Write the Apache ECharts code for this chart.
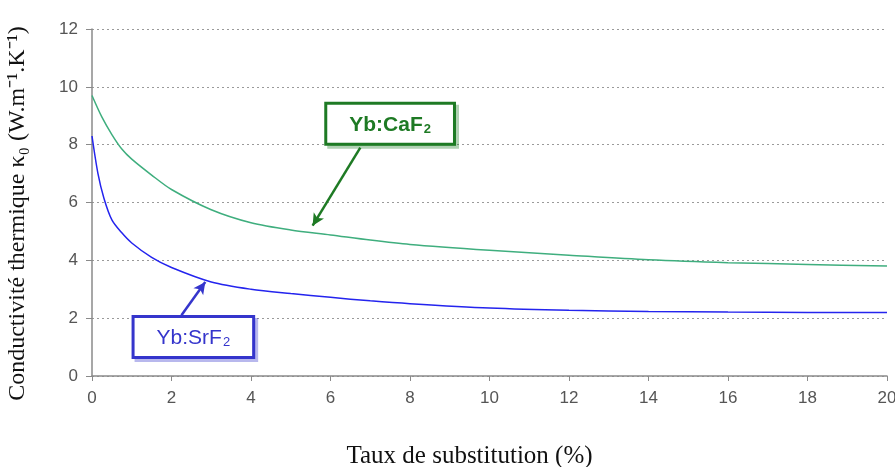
<!DOCTYPE html>
<html>
<head>
<meta charset="utf-8">
<script src="https://cdn.jsdelivr.net/npm/echarts@6/dist/echarts.min.js"></script>
<style>
  html, body { margin: 0; padding: 0; background: #fff; }
  #chart { width: 895px; height: 467px; }
</style>
</head>
<body>
<div id="chart"></div>
<script>
// taux de substitution (%)
const xCaF2 = [0, 0.25, 0.5, 0.75, 1, 1.5, 2, 3, 4, 5, 6, 7, 8, 10, 12, 14, 16, 18, 20]
const yCaF2 = [9.7, 8.95, 8.35, 7.85, 7.5, 6.95, 6.45, 5.75, 5.3, 5.05, 4.88, 4.7, 4.55, 4.35, 4.18, 4.02, 3.92, 3.86, 3.8]
const xSrF2 = [0, 0.15, 0.3, 0.5, 0.75, 1, 1.5, 2, 3, 4, 5, 6, 7, 8, 10, 12, 14, 16, 18, 20]
const ySrF2 = [8.3, 7.0, 6.15, 5.4, 4.95, 4.6, 4.1, 3.75, 3.25, 3.0, 2.85, 2.72, 2.6, 2.5, 2.35, 2.27, 2.23, 2.21, 2.2, 2.2]
const xTicks = [0, 2, 4, 6, 8, 10, 12, 14, 16, 18, 20]
const yTicks = [0, 2, 4, 6, 8, 10, 12]

const greenLine = '#3fae7e'
const greenDark = '#1e7a24'
const blueLine = '#2424ee'
const blueDark = '#3535cc'

const myEchart = echarts.init(document.getElementById('chart'))

function pairs(xs, ys) {
  return xs.map((x, i) => [x, ys[i]])
}

function boxLabel(name, color, weight, shadow) {
  return {
    show: true,
    position: 'inside',
    formatter: '{m|' + name + '}{s|2}',
    backgroundColor: '#fff',
    borderColor: color,
    borderWidth: 3,
    padding: [9, 22, 7, 22],
    shadowColor: shadow,
    shadowOffsetX: 3,
    shadowOffsetY: 3,
    shadowBlur: 0,
    rich: {
      m: { fontSize: 21, fontWeight: weight, color: color, fontFamily: 'Liberation Sans' },
      s: { fontSize: 13, fontWeight: weight, color: color, fontFamily: 'Liberation Sans', padding: [9, 0, 0, 1] }
    }
  }
}

const options = {
  animation: false,
  backgroundColor: '#fff',
  grid: { left: 92, right: 8, top: 29, bottom: 91, containLabel: false, outerBoundsMode: 'none' },
  xAxis: {
    type: 'value',
    min: xTicks[0],
    max: xTicks[xTicks.length - 1],
    interval: 2,
    name: 'Taux de substitution (%)',
    nameLocation: 'middle',
    nameGap: 68,
    nameTextStyle: { fontFamily: 'Liberation Serif', fontSize: 25, color: '#111', padding: [0, 40, 0, 0] },
    axisLine: { lineStyle: { color: '#8a8a8a', width: 1.5 } },
    axisTick: { show: true, inside: false, length: 5, lineStyle: { color: '#8a8a8a' } },
    axisLabel: { color: '#555', fontSize: 17, margin: 14, fontFamily: 'Liberation Sans' },
    splitLine: { show: false }
  },
  yAxis: {
    type: 'value',
    min: yTicks[0],
    max: yTicks[yTicks.length - 1],
    interval: 2,
    name: 'Conductivité thermique κ\u2080 (W.m\u207B\u00B9.K\u207B\u00B9)',
    nameLocation: 'middle',
    nameGap: 62,
    nameTextStyle: { fontFamily: 'Liberation Serif', fontSize: 24, color: '#111', padding: [0, 22, 0, 0] },
    axisLine: { show: true, lineStyle: { color: '#8a8a8a', width: 1.5 } },
    axisTick: { show: true, inside: false, length: 6, lineStyle: { color: '#8a8a8a' } },
    axisLabel: { color: '#555', fontSize: 17, margin: 14, fontFamily: 'Liberation Sans' },
    splitLine: { show: true, lineStyle: { color: '#9a9a9a', type: [2, 3], width: 1 } }
  },
  series: [
    {
      name: 'Yb:CaF2',
      type: 'line',
      smooth: 0.3,
      symbol: 'none',
      lineStyle: { color: greenLine, width: 1.5 },
      data: pairs(xCaF2, yCaF2),
      markLine: {
        silent: true,
        symbol: ['none', 'arrow'],
        symbolSize: [9, 12],
        lineStyle: { color: greenDark, width: 2.5, type: 'solid' },
        label: { show: false },
        data: [[{ coord: [6.75, 7.9] }, { coord: [5.55, 5.2] }]]
      },
      markPoint: {
        silent: true,
        symbol: 'rect',
        symbolSize: 0,
        label: boxLabel('Yb:CaF', greenDark, 'bold', 'rgba(30,122,36,0.35)'),
        data: [{ coord: [7.5, 8.72] }]
      }
    },
    {
      name: 'Yb:SrF2',
      type: 'line',
      smooth: 0.3,
      symbol: 'none',
      lineStyle: { color: blueLine, width: 1.5 },
      data: pairs(xSrF2, ySrF2),
      markLine: {
        silent: true,
        symbol: ['none', 'arrow'],
        symbolSize: [9, 12],
        lineStyle: { color: blueDark, width: 2.5, type: 'solid' },
        label: { show: false },
        data: [[{ coord: [2.25, 2.1] }, { coord: [2.85, 3.25] }]]
      },
      markPoint: {
        silent: true,
        symbol: 'rect',
        symbolSize: 0,
        label: boxLabel('Yb:SrF', blueDark, 'normal', 'rgba(53,53,204,0.35)'),
        data: [{ coord: [2.55, 1.35] }]
      }
    }
  ]
}
myEchart.setOption(options)
</script>
</body>
</html>
